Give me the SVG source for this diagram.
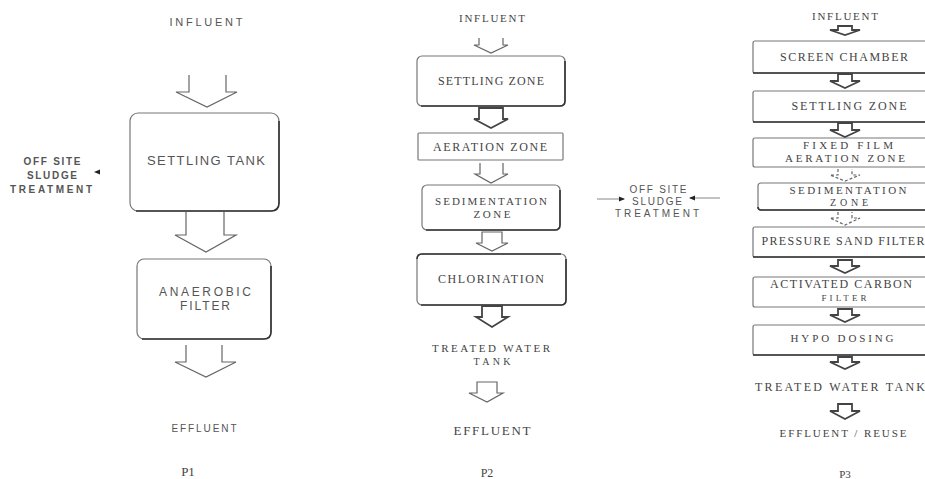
<svg xmlns="http://www.w3.org/2000/svg" width="925" height="479" viewBox="0 0 925 479">
<style>
.sans{font-family:"Liberation Sans",Arial,sans-serif;fill:#555;text-anchor:middle}
.ser{font-family:"Liberation Serif","Times New Roman",serif;fill:#444;text-anchor:middle}
.box{fill:#fff;stroke:#777;stroke-width:1.2}
.shade{fill:none;stroke:#333;stroke-width:1.6}
.arr{fill:#fff;stroke:#666;stroke-width:1.2;stroke-linejoin:miter}
.arrb{fill:#fff;stroke:#444;stroke-width:1.8}
.ln{stroke:#888;stroke-width:1;fill:none}
</style>
<defs>
<marker id="ah" viewBox="0 0 6 6" refX="5" refY="3" markerWidth="6" markerHeight="6" orient="auto">
<path d="M0,0.5 L6,3 L0,5.5 Z" fill="#222"/>
</marker>
</defs>
<rect width="925" height="479" fill="#fff"/>

<!-- Panel P1 -->
<g id="p1-influent"><text class="sans" x="206" y="26" font-size="11" textLength="73" lengthAdjust="spacing">INFLUENT</text></g>
<g id="p1-settling">
<rect class="box" x="130" y="113" width="149" height="98" rx="8"/>
<path class="shade" d="M136,211 H271 Q279,211 279,203 V121"/>
<text class="sans" x="206" y="165" font-size="13" textLength="118" lengthAdjust="spacing">SETTLING TANK</text>
</g>
<g id="p1-offsite">
<text class="sans" x="52" y="165" font-size="10" font-weight="bold" textLength="57" lengthAdjust="spacing">OFF SITE</text>
<text class="sans" x="52" y="179" font-size="10" font-weight="bold" textLength="50" lengthAdjust="spacing">SLUDGE</text>
<text class="sans" x="51" y="193" font-size="10" font-weight="bold" textLength="82" lengthAdjust="spacing">TREATMENT</text>
</g>
<g id="p1-anaerobic">
<rect class="box" x="137" y="259" width="134" height="80" rx="7"/>
<path class="shade" d="M142,339 H264 Q271,339 271,332 V266"/>
<text class="sans" x="205" y="296" font-size="12" textLength="92" lengthAdjust="spacing">ANAEROBIC</text>
<text class="sans" x="205" y="310" font-size="12" textLength="50" lengthAdjust="spacing">FILTER</text>
</g>
<g id="p1-effluent"><text class="sans" x="204" y="432" font-size="10" textLength="65" lengthAdjust="spacing">EFFLUENT</text></g>
<g id="p1-label"><text class="ser" x="188" y="476" font-size="13" fill="#333">P1</text></g>

<!-- Panel P2 -->
<g id="p2-influent"><text class="ser" x="492" y="22" font-size="11" textLength="66" lengthAdjust="spacing">INFLUENT</text></g>
<g id="p2-settling">
<rect class="box" x="417" y="56" width="148" height="50" rx="5"/>
<path class="shade" d="M421,106 H560 Q565,106 565,101 V61"/>
<text class="ser" x="491" y="85" font-size="12" textLength="106" lengthAdjust="spacing">SETTLING ZONE</text>
</g>
<g id="p2-aeration">
<rect class="box" x="418" y="133" width="145" height="27" rx="1"/>
<text class="ser" x="490" y="151" font-size="12" textLength="114" lengthAdjust="spacing">AERATION ZONE</text>
</g>
<g id="p2-sedimentation">
<rect class="box" x="422" y="185" width="138" height="45" rx="5"/>
<path class="shade" d="M426,230 H555 Q560,230 560,225 V190"/>
<text class="ser" x="491" y="205" font-size="11" textLength="112" lengthAdjust="spacing">SEDIMENTATION</text>
<text class="ser" x="492" y="218" font-size="11" textLength="37" lengthAdjust="spacing">ZONE</text>
</g>
<g id="p2-chlorination">
<rect class="box" x="417" y="254" width="149" height="51" rx="5"/>
<path class="shade" d="M421,305 H561 Q566,305 566,300 V259"/>
<path class="shade" d="M417,259 Q417,254 422,254 H561"/>
<text class="ser" x="491" y="283" font-size="12" textLength="106" lengthAdjust="spacing">CHLORINATION</text>
</g>
<g id="p2-treated">
<text class="ser" x="491" y="352" font-size="11" textLength="118" lengthAdjust="spacing">TREATED WATER</text>
<text class="ser" x="492" y="365" font-size="10" textLength="37" lengthAdjust="spacing">TANK</text>
</g>
<g id="p2-effluent"><text class="ser" x="492" y="435" font-size="13" textLength="77" lengthAdjust="spacing">EFFLUENT</text></g>
<g id="p2-label"><text class="ser" x="487" y="477" font-size="12" fill="#333">P2</text></g>

<g id="p2-offsite">
<text class="sans" x="658" y="193" font-size="10" textLength="57" lengthAdjust="spacing">OFF SITE</text>
<text class="sans" x="657" y="205" font-size="10" textLength="50" lengthAdjust="spacing">SLUDGE</text>
<text class="sans" x="657" y="217" font-size="10" textLength="84" lengthAdjust="spacing">TREATMENT</text>
</g>

<!-- Panel P3 -->
<g id="p3-influent"><text class="ser" x="845" y="20" font-size="11" textLength="66" lengthAdjust="spacing">INFLUENT</text></g>
<g id="p3-screen">
<rect class="box" x="753" y="41" width="180" height="32" rx="2"/>
<path class="shade" d="M753,73 H925"/>
<text class="ser" x="844" y="61" font-size="12" textLength="128" lengthAdjust="spacing">SCREEN CHAMBER</text>
</g>
<g id="p3-settling">
<rect class="box" x="753" y="91" width="180" height="31" rx="2"/>
<path class="shade" d="M753,122 H925"/>
<text class="ser" x="849" y="110" font-size="12" textLength="115" lengthAdjust="spacing">SETTLING ZONE</text>
</g>
<g id="p3-fixedfilm">
<rect class="box" x="753" y="138" width="180" height="29" rx="2"/>
<text class="ser" x="848" y="149" font-size="11" textLength="90" lengthAdjust="spacing">FIXED FILM</text>
<text class="ser" x="845" y="162" font-size="11" textLength="120" lengthAdjust="spacing">AERATION ZONE</text>
</g>
<g id="p3-sedimentation">
<rect class="box" x="758" y="183" width="180" height="27" rx="3"/>
<path class="shade" d="M758,207 Q758,210 761,210 H925"/>
<text class="ser" x="848" y="194" font-size="11" textLength="117" lengthAdjust="spacing">SEDIMENTATION</text>
<text class="ser" x="849" y="206" font-size="10" textLength="38" lengthAdjust="spacing">ZONE</text>
</g>
<g id="p3-psf">
<rect class="box" x="753" y="227" width="180" height="30" rx="2"/>
<path class="shade" d="M753,257 H925"/>
<text class="ser" x="843" y="245" font-size="12" textLength="163" lengthAdjust="spacing">PRESSURE SAND FILTER</text>
</g>
<g id="p3-acf">
<rect class="box" x="753" y="277" width="180" height="30" rx="2"/>
<text class="ser" x="841" y="288" font-size="12" textLength="142" lengthAdjust="spacing">ACTIVATED CARBON</text>
<text class="ser" x="844" y="301" font-size="9" textLength="45" lengthAdjust="spacing">FILTER</text>
</g>
<g id="p3-hypo">
<rect class="box" x="753" y="325" width="180" height="30" rx="2"/>
<path class="shade" d="M753,355 H925"/>
<text class="ser" x="842" y="342" font-size="11" textLength="103" lengthAdjust="spacing">HYPO DOSING</text>
</g>
<g id="p3-treated"><text class="ser" x="840" y="391" font-size="12" textLength="170" lengthAdjust="spacing">TREATED WATER TANK</text></g>
<g id="p3-effluent"><text class="ser" x="843" y="437" font-size="11" textLength="127" lengthAdjust="spacing">EFFLUENT / REUSE</text></g>
<g id="p3-label"><text class="ser" x="845" y="478" font-size="11" fill="#333">P3</text></g>

<!-- Connectors -->
<g id="connectors">
<path class="arr" d="M189,75 V92 H176 L207,107 L237,92 H226 V75"/>
<path class="arr" d="M186,212 V235 H175 L206,252 L236,235 H224 V212"/>
<path class="arr" d="M186,345 V362 H175 L206,377 L236,362 H222 V345"/>
<path d="M94,172 L100,169.5 L100,174.5 Z" fill="#222"/>

<path class="arr" d="M479,38 V45 H474 L491,53 L508,45 H503 V38"/>
<path class="arrb" d="M479,108 V119 H474 L491,128 L508,119 H503 V108 Z"/>
<path class="arr" d="M480,163 V174 H475 L491,183 L508,174 H503 V163"/>
<path class="arr" d="M482,232 V243 H476 L492,251 L508,243 H502 V232 Z"/>
<path class="arrb" d="M482,306 V317 H476 L492,327 L508,317 H502 V306 Z"/>
<path class="arr" d="M477,382 V393 H469 L487,402 L503,393 H497 V382 Z"/>

<line class="ln" x1="597" y1="199" x2="624" y2="199" marker-end="url(#ah)"/>
<line class="ln" x1="720" y1="198" x2="690" y2="198" marker-end="url(#ah)"/>

<path class="arrb" d="M838,26 V30 H830 L845,35 L860,30 H852 V26 Z"/>
<path class="arrb" d="M838,74 V81 H830 L845,88 L860,81 H852 V74 Z"/>
<path class="arrb" d="M838,123 V130 H830 L845,137 L860,130 H852 V123 Z"/>
<path class="arr" d="M838,169 V175 H830 L845,181 L860,175 H852 V169" stroke-dasharray="3,2"/>
<path class="arr" d="M838,212 V218 H830 L845,225 L860,218 H852 V212" stroke-dasharray="3,2"/>
<path class="arrb" d="M838,260 V266 H830 L845,273 L860,266 H852 V260 Z"/>
<path class="arrb" d="M838,309 V315 H830 L845,322 L860,315 H852 V309 Z"/>
<path class="arrb" d="M838,357 V362 H830 L845,369 L860,362 H852 V357 Z"/>
<path class="arrb" d="M838,404 V411 H830 L845,419 L860,411 H852 V404 Z"/>
</g>
</svg>
